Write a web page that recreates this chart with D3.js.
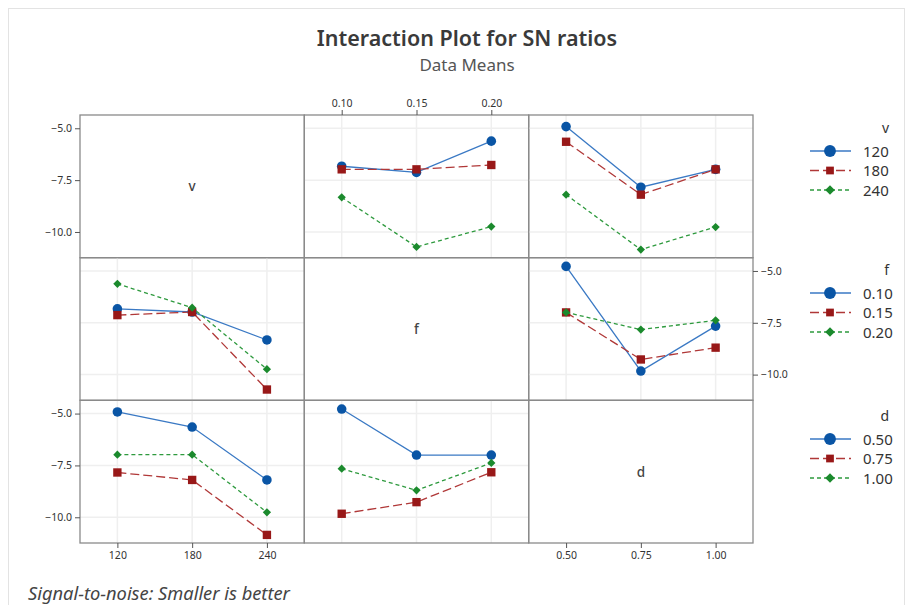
<!DOCTYPE html>
<html><head><meta charset="utf-8">
<script src="https://cdn.jsdelivr.net/npm/d3@7"></script>
<style>
body{margin:0;background:#fff;}
svg{display:block;font-family:"Noto Sans","Open Sans",sans-serif;}
</style></head>
<body><svg id="c" width="913" height="605"></svg>
<script>
// ---- data ----
const factorNames = ["v", "f", "d"];
const vLevels = ["120", "180", "240"];
const fLevels = ["0.10", "0.15", "0.20"];
const dLevels = ["0.50", "0.75", "1.00"];
// mean SN ratio for v (rows) x f (cols)
const snVF = [[-6.83, -7.13, -5.62], [-6.98, -6.98, -6.77], [-8.33, -10.72, -9.74]];
// v (rows) x d (cols)
const snVD = [[-4.92, -7.84, -6.98], [-5.65, -8.20, -6.98], [-8.20, -10.85, -9.76]];
// f (rows) x d (cols)
const snFD = [[-4.78, -9.83, -7.66], [-7.00, -9.27, -8.70], [-7.00, -7.83, -7.38]];
const yTicks = [-5.0, -7.5, -10.0];
const yDomain = [-11.24, -4.36];

const levels = [vLevels, fLevels, dLevels];
const pairMatrix = {"0-1": snVF, "0-2": snVD, "1-2": snFD};
function cellValue(rf, i, cf, j) {
  if (rf < cf) return pairMatrix[rf + "-" + cf][i][j];
  return pairMatrix[cf + "-" + rf][j][i];
}

const lineColors = ["#3a79c4", "#b03838", "#2e9a3e"];
const markColors = ["#0a55a5", "#981818", "#1b8a2d"];
const dashes = [null, "9,4", "4,3"];
const symbols = [d3.symbolCircle, d3.symbolSquare, d3.symbolSquare];
const rotations = [0, 0, 45];
const symSizes = [72, 70, 34];
const legSizes = [110, 60, 46];

const svg = d3.select("#c");
const gx = [80, 304.3, 528.7, 753];
const gy = [115, 257.7, 400.3, 543];

// outer frame
svg.append("rect").attr("x", 8.5).attr("y", 8.5).attr("width", 896).attr("height", 620)
  .attr("fill", "none").attr("stroke", "#e3e3e3");

// titles
svg.append("text").attr("x", 467).attr("y", 46).attr("text-anchor", "middle")
  .attr("font-size", 21.5).attr("font-weight", 600).attr("fill", "#3a3a3a").text("Interaction Plot for SN ratios");
svg.append("text").attr("x", 467).attr("y", 71).attr("text-anchor", "middle")
  .attr("font-size", 17).attr("fill", "#555").text("Data Means");
svg.append("text").attr("x", 28).attr("y", 600).attr("font-style", "italic")
  .attr("font-size", 18.3).attr("fill", "#444").text("Signal-to-noise: Smaller is better");

function xScale(c) {
  return d3.scalePoint().domain(levels[c]).range([gx[c], gx[c + 1]]).padding(0.5);
}
function yScale(r) {
  return d3.scaleLinear().domain(yDomain).range([gy[r + 1], gy[r]]);
}

for (let r = 0; r < 3; r++) {
  for (let c = 0; c < 3; c++) {
    const xs = xScale(c), ys = yScale(r);
    const g = svg.append("g");
    if (r !== c) {
      // gridlines
      g.selectAll(".gv").data(levels[c]).join("line")
        .attr("x1", d => xs(d)).attr("x2", d => xs(d)).attr("y1", gy[r]).attr("y2", gy[r + 1])
        .attr("stroke", "#efefef").attr("stroke-width", 1.5);
      g.selectAll(".gh").data(yTicks).join("line")
        .attr("x1", gx[c]).attr("x2", gx[c + 1]).attr("y1", d => ys(d)).attr("y2", d => ys(d))
        .attr("stroke", "#efefef").attr("stroke-width", 1.5);
      // series
      levels[r].forEach((lv, i) => {
        const pts = levels[c].map((cl, j) => ({x: cl, y: cellValue(r, i, c, j)}));
        g.append("path").datum(pts)
          .attr("d", d3.line().x(d => xs(d.x)).y(d => ys(d.y)))
          .attr("fill", "none").attr("stroke", lineColors[i]).attr("stroke-width", 1.3)
          .attr("stroke-dasharray", dashes[i]);
        g.selectAll(".m" + i).data(pts).join("path")
          .attr("transform", d => `translate(${xs(d.x)},${ys(d.y)}) rotate(${rotations[i]})`)
          .attr("d", d3.symbol().type(symbols[i]).size(symSizes[i]))
          .attr("fill", markColors[i]);
      });
    } else {
      g.append("text").attr("x", (gx[c] + gx[c + 1]) / 2).attr("y", (gy[r] + gy[r + 1]) / 2 + 5)
        .attr("text-anchor", "middle").attr("font-size", 13.5).attr("font-weight", 500).attr("fill", "#444")
        .text(factorNames[r]);
    }
    g.append("rect").attr("x", gx[c]).attr("y", gy[r]).attr("width", gx[c + 1] - gx[c])
      .attr("height", gy[r + 1] - gy[r]).attr("fill", "none").attr("stroke", "#8a8a8a").attr("stroke-width", 1.3);
  }
}

// axes
function styleAxis(sel) {
  sel.selectAll(".domain").remove();
  sel.selectAll("text").attr("font-size", 10.5).attr("fill", "#333").attr("font-family", "Noto Sans, sans-serif");
  sel.selectAll("line").attr("stroke", "#555");
}
const yFmt = d3.format(".1f");
[0, 2].forEach(r => {
  svg.append("g").attr("transform", `translate(${gx[0]},0)`)
    .call(d3.axisLeft(yScale(r)).tickValues(yTicks).tickFormat(yFmt).tickSize(5).tickPadding(3)).call(styleAxis);
});
svg.append("g").attr("transform", `translate(${gx[3]},0)`)
  .call(d3.axisRight(yScale(1)).tickValues(yTicks).tickFormat(yFmt).tickSize(5).tickPadding(3)).call(styleAxis);
[0, 2].forEach(c => {
  svg.append("g").attr("transform", `translate(0,${gy[3]})`)
    .call(d3.axisBottom(xScale(c)).tickSize(5).tickPadding(4)).call(styleAxis);
});
svg.append("g").attr("transform", `translate(0,${gy[0]})`)
  .call(d3.axisTop(xScale(1)).tickSize(5).tickPadding(3)).call(styleAxis);

// legends
const legTop = [133, 275, 421];
for (let r = 0; r < 3; r++) {
  const lg = svg.append("g");
  lg.append("text").attr("x", 889).attr("y", legTop[r]).attr("text-anchor", "end")
    .attr("font-size", 14).attr("fill", "#333").text(factorNames[r]);
  levels[r].forEach((lv, i) => {
    const y = legTop[r] + 18 + i * 19.5;
    lg.append("line").attr("x1", 810).attr("x2", 851).attr("y1", y).attr("y2", y)
      .attr("stroke", lineColors[i]).attr("stroke-width", 1.3).attr("stroke-dasharray", dashes[i]);
    lg.append("path").attr("transform", `translate(830,${y}) rotate(${rotations[i]})`)
      .attr("d", d3.symbol().type(symbols[i]).size(legSizes[i])).attr("fill", markColors[i]);
    lg.append("text").attr("x", 863).attr("y", y + 5.5).attr("font-size", 15).attr("fill", "#333").text(lv);
  });
}
</script></body></html>
